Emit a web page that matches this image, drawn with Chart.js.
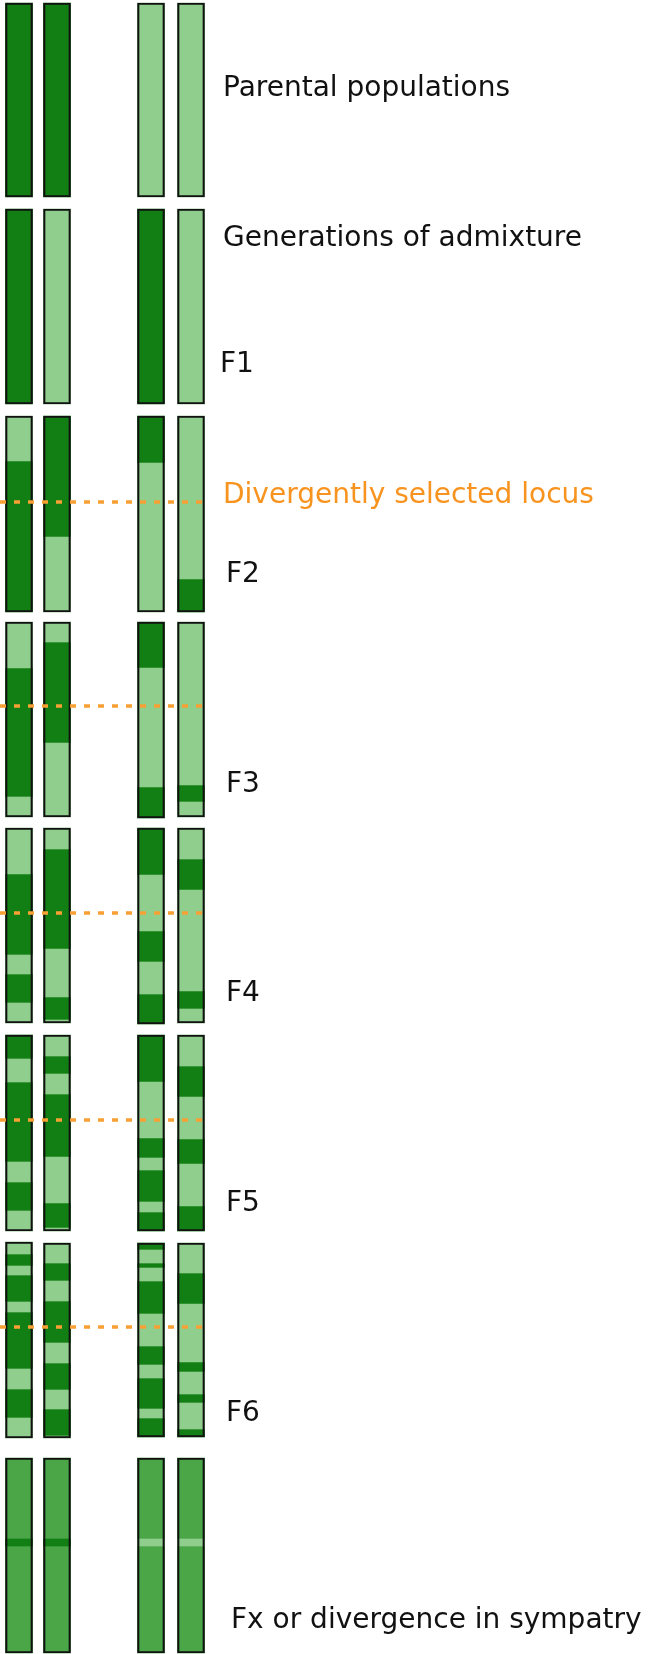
<!DOCTYPE html>
<html>
<head>
<meta charset="utf-8">
<script src="https://cdn.jsdelivr.net/npm/chart.js@4"></script>
<style>
  body { margin: 0; background: #fff; }
  canvas { display: block; }
</style>
</head>
<body>
<canvas id="chart" width="650" height="1654"></canvas>
<script>
// chromosome columns (x centre of each chromosome)
const columns = [19, 57, 151, 191];

// each chromosome: first colour then boundaries, colours alternate D/L
const parental = [['D', 3, 197], ['D', 3, 197], ['L', 3, 197], ['L', 3, 197]];
const genF1 = [['D', 209, 404], ['L', 209, 404], ['D', 209, 404], ['L', 209, 404]];
const genF2 = [
    ['L', 416, 461, 612],
    ['D', 416, 537, 612],
    ['D', 416, 463, 612],
    ['L', 416, 579, 612]
];
const genF3 = [
    ['L', 622, 668, 797, 817],
    ['L', 622, 642, 743, 817],
    ['D', 622, 668, 787, 818],
    ['L', 622, 785, 802, 817]
];
const genF4 = [
    ['L', 828, 874, 955, 974, 1003, 1023],
    ['L', 828, 849, 949, 997, 1020, 1023],
    ['D', 828, 875, 931, 962, 994, 1024],
    ['L', 828, 859, 890, 991, 1009, 1023]
];
const genF5 = [
    ['D', 1035, 1059, 1082, 1162, 1182, 1211, 1231],
    ['L', 1035, 1056, 1074, 1094, 1157, 1203, 1228, 1231],
    ['D', 1035, 1082, 1138, 1158, 1170, 1202, 1212, 1231],
    ['L', 1035, 1066, 1097, 1139, 1164, 1206, 1231]
];
const genF6 = [
    ['L', 1242, 1254, 1266, 1275, 1302, 1312, 1369, 1389, 1418, 1438],
    ['L', 1243, 1263, 1281, 1301, 1343, 1363, 1390, 1409, 1436, 1438],
    ['D', 1243, 1250, 1263, 1268, 1281, 1314, 1346, 1365, 1378, 1409, 1418, 1437],
    ['L', 1243, 1273, 1304, 1362, 1372, 1394, 1403, 1429, 1437]
];
const genFx = [[1458, 1653], [1458, 1653], [1458, 1653], [1458, 1653]];
const fxBand = [['D', 1539, 1546], ['D', 1539, 1546], ['L', 1539, 1546], ['L', 1539, 1546]];

// divergently selected locus per generation row
const locusY = [502, 706, 913, 1120, 1327];

const labels = [
    { text: 'Parental populations', x: 223, y: 89 },
    { text: 'Generations of admixture', x: 223, y: 239 },
    { text: 'F1', x: 220, y: 365 },
    { text: 'Divergently selected locus', x: 223, y: 496, color: '#f7931e' },
    { text: 'F2', x: 226, y: 575 },
    { text: 'F3', x: 226, y: 785 },
    { text: 'F4', x: 226, y: 994 },
    { text: 'F5', x: 226, y: 1204 },
    { text: 'F6', x: 226, y: 1414 },
    { text: 'Fx or divergence in sympatry', x: 231, y: 1621 }
];

const DARK = '#127f14';
const LIGHT = '#8fce8d';
const MID = '#4aa646';

const darkBars = [];
const lightBars = [];
const midBars = [];
const outlines = [];

[parental, genF1, genF2, genF3, genF4, genF5, genF6].forEach(row => {
    row.forEach((chrom, c) => {
        let col = chrom[0];
        for (let i = 1; i < chrom.length - 1; i++) {
            const bar = { x: columns[c], y: [chrom[i], chrom[i + 1]] };
            (col === 'D' ? darkBars : lightBars).push(bar);
            col = col === 'D' ? 'L' : 'D';
        }
        outlines.push({ x: columns[c], y: [chrom[1], chrom[chrom.length - 1]] });
    });
});
genFx.forEach((r, c) => {
    midBars.push({ x: columns[c], y: r });
    outlines.push({ x: columns[c], y: r });
});
fxBand.forEach((b, c) => {
    (b[0] === 'D' ? darkBars : lightBars).push({ x: columns[c], y: [b[1], b[2]] });
});

const locusSets = locusY.map(y => ({
    type: 'line',
    data: [{ x: 0, y: y }, { x: 208, y: y }],
    borderColor: '#f7a033',
    borderWidth: 3.5,
    borderDash: [6, 8],
    pointRadius: 0
}));

const barBase = { type: 'bar', barThickness: 27, grouped: false, borderSkipped: false };

// texts drawn in data coordinates
const textPlugin = {
    id: 'texts',
    afterDraw(chart) {
        const c = chart.ctx;
        const xs = chart.scales.x, ys = chart.scales.y;
        c.save();
        c.font = '28px "DejaVu Sans"';
        c.textBaseline = 'middle';
        labels.forEach(l => {
            c.fillStyle = l.color || '#111';
            c.fillText(l.text, xs.getPixelForValue(l.x), ys.getPixelForValue(l.y));
        });
        c.restore();
    }
};

new Chart(document.getElementById('chart'), {
    data: {
        datasets: [
            ...locusSets,
            { ...barBase, data: outlines, backgroundColor: 'rgba(0,0,0,0)', borderColor: '#111', borderWidth: 1.5 },
            { ...barBase, data: lightBars, backgroundColor: LIGHT, borderWidth: 0 },
            { ...barBase, data: darkBars, backgroundColor: DARK, borderWidth: 0 },
            { ...barBase, data: midBars, backgroundColor: MID, borderWidth: 0 }
        ]
    },
    options: {
        responsive: false,
        animation: false,
        layout: { padding: 0 },
        plugins: { legend: { display: false }, tooltip: { enabled: false } },
        scales: {
            x: { type: 'linear', min: 0, max: 650, offset: false, display: false },
            y: { type: 'linear', min: 0, max: 1654, reverse: true, display: false }
        }
    },
    plugins: [textPlugin]
});
</script>
</body>
</html>
